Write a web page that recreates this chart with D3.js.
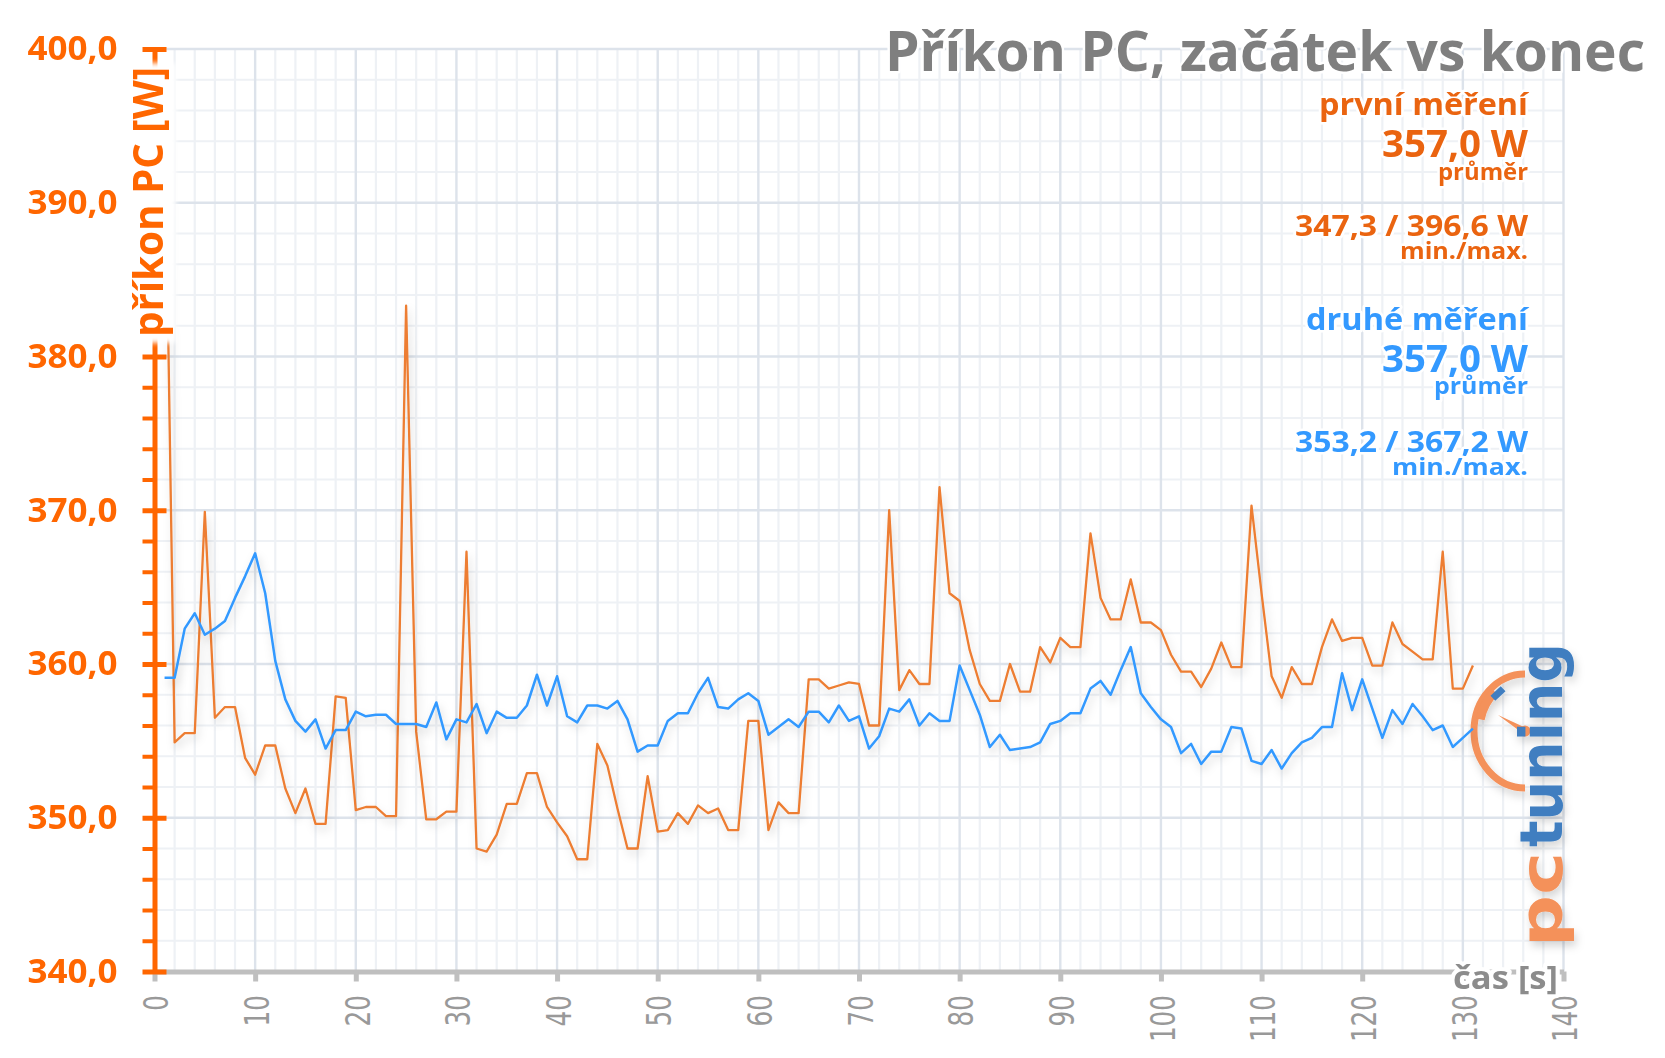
<!DOCTYPE html>
<html><head><meta charset="utf-8">
<script src="https://cdn.jsdelivr.net/npm/d3@7"></script>
<style>
html,body{margin:0;padding:0;background:#fff;}
svg{display:block;}
</style></head>
<body>
<svg id="chart" width="1665" height="1058"></svg>
<script>
// ---- data ----
const firstSecond = 1; // first sample is at t = 1 s
const prvniMereni = [
396.6,354.9,355.5,355.5,369.9,356.5,357.2,357.2,353.9,352.8,
354.7,354.7,351.9,350.3,351.9,349.6,349.6,357.9,357.8,350.5,
350.7,350.7,350.1,350.1,383.3,355.6,349.9,349.9,350.4,350.4,
367.3,348.0,347.8,348.9,350.9,350.9,352.9,352.9,350.7,349.7,
348.8,347.3,347.3,354.8,353.4,350.6,348.0,348.0,352.7,349.1,
349.2,350.3,349.6,350.8,350.3,350.6,349.2,349.2,356.3,356.3,
349.2,351.0,350.3,350.3,359.0,359.0,358.4,358.6,358.8,358.7,
356.0,356.0,370.0,358.3,359.6,358.7,358.7,371.5,364.6,364.1,
360.9,358.7,357.6,357.6,360.0,358.2,358.2,361.1,360.1,361.7,
361.1,361.1,368.5,364.3,362.9,362.9,365.5,362.7,362.7,362.2,
360.6,359.5,359.5,358.5,359.7,361.4,359.8,359.8,370.3,364.6,
359.2,357.8,359.8,358.7,358.7,361.1,362.9,361.5,361.7,361.7,
359.9,359.9,362.7,361.3,360.8,360.3,360.3,367.3,358.4,358.4,
359.9];
const druheMereni = [
359.1,359.1,362.3,363.3,361.9,362.3,362.8,364.3,365.7,367.2,
364.6,360.2,357.7,356.3,355.6,356.4,354.5,355.7,355.7,356.9,
356.6,356.7,356.7,356.1,356.1,356.1,355.9,357.5,355.1,356.4,
356.2,357.4,355.5,356.9,356.5,356.5,357.3,359.3,357.3,359.2,
356.6,356.2,357.3,357.3,357.1,357.6,356.4,354.3,354.7,354.7,
356.3,356.8,356.8,358.1,359.1,357.2,357.1,357.7,358.1,357.6,
355.4,355.9,356.4,355.9,356.9,356.9,356.2,357.3,356.3,356.6,
354.5,355.3,357.1,356.9,357.7,356.0,356.8,356.3,356.3,359.9,
358.3,356.7,354.6,355.4,354.4,354.5,354.6,354.9,356.1,356.3,
356.8,356.8,358.4,358.9,358.0,359.6,361.1,358.1,357.2,356.4,
355.9,354.2,354.8,353.5,354.3,354.3,355.9,355.8,353.7,353.5,
354.4,353.2,354.2,354.9,355.2,355.9,355.9,359.4,357.0,359.0,
357.1,355.2,357.0,356.1,357.4,356.6,355.7,356.0,354.6,355.2,
355.8];
const xTickValues = [0,10,20,30,40,50,60,70,80,90,100,110,120,130,140];
const yTickValues = [340,350,360,370,380,390,400];
const yTickLabels = ["340,0","350,0","360,0","370,0","380,0","390,0","400,0"];
const titleText = "Příkon PC, začátek vs konec";
const yAxisTitle = "příkon PC [W]";
const xAxisTitle = "čas [s]";
const seriesNames = ["první měření","druhé měření"];
const averages = ["357,0 W","357,0 W"];
const minMax = ["347,3 / 396,6 W","353,2 / 367,2 W"];

// ---- setup ----
const svg = d3.select("#chart");
const ORANGE_AXIS = "#FF6600", ORANGE_LINE = "#ED7D31", ORANGE_TXT = "#EA6410";
const BLUE = "#3399FF";
const x = d3.scaleLinear().domain([0,140]).range([154.5,1563.5]);
const y = d3.scaleLinear().domain([340,400]).range([971.5,49]);

const defs = svg.append("defs");
const sh = defs.append("filter").attr("id","shadow").attr("x","-5%").attr("y","-10%").attr("width","115%").attr("height","130%");
sh.append("feDropShadow").attr("dx",2).attr("dy",5).attr("stdDeviation",4).attr("flood-color","#000").attr("flood-opacity",0.17);
const bl = defs.append("filter").attr("id","blur").attr("x","-20%").attr("y","-5%").attr("width","140%").attr("height","110%");
bl.append("feGaussianBlur").attr("stdDeviation",2.5);

// ---- grid ----
const grid = svg.append("g");
const minorT = d3.range(0,141,2).filter(t=>t%10!==0);
const minorV = d3.range(340,401,2).filter(v=>v%10!==0);
grid.selectAll(".mv").data(minorT).join("line")
  .attr("x1",d=>x(d)).attr("x2",d=>x(d)).attr("y1",y(340)).attr("y2",y(400))
  .attr("stroke","#eef1f5").attr("stroke-width",2.2);
grid.selectAll(".mh").data(minorV).join("line")
  .attr("x1",x(0)).attr("x2",x(140)).attr("y1",d=>y(d)).attr("y2",d=>y(d))
  .attr("stroke","#eef1f5").attr("stroke-width",2.2);
grid.selectAll(".Mv").data(xTickValues).join("line")
  .attr("x1",d=>x(d)).attr("x2",d=>x(d)).attr("y1",y(340)).attr("y2",y(400))
  .attr("stroke","#dde3eb").attr("stroke-width",2.4);
grid.selectAll(".Mh").data(yTickValues).join("line")
  .attr("x1",x(0)).attr("x2",x(140)).attr("y1",d=>y(d)).attr("y2",d=>y(d))
  .attr("stroke","#dde3eb").attr("stroke-width",2.4);

// ---- logo (watermark) ----
const logo = svg.append("g").attr("filter","url(#shadow)");
const cx = 1525, cy = 731, rx = 51, ry = 57;
const ep = (r1,r2,a)=>[cx + r1*Math.cos(a*Math.PI/180), cy + r2*Math.sin(a*Math.PI/180)];
logo.append("path").attr("d",`M${cx},${cy-ry} A${rx},${ry} 0 0 0 ${cx},${cy+ry}`)
  .attr("fill","none").attr("stroke","#F4915A").attr("stroke-width",7);
{
  const a1 = ep(rx-5,ry-5,193), a2 = ep(rx-5,ry-5,229);
  logo.append("path").attr("d",`M${a1[0]},${a1[1]} A${rx-5},${ry-5} 0 0 1 ${a2[0]},${a2[1]}`)
    .attr("fill","none").attr("stroke","#F4915A").attr("stroke-width",9);
}
logo.append("rect").attr("x",-7).attr("y",-3.5).attr("width",14).attr("height",7)
  .attr("transform","translate(1498,693.5) rotate(-43)").attr("fill","#3F7EC0");
logo.append("polygon").attr("points",`1498,715 ${cx-1.6},${cy+2.7} ${cx+1.6},${cy-2.7}`).attr("fill","#F4915A");
logo.append("circle").attr("cx",cx).attr("cy",cy).attr("r",5.5).attr("fill","#F4915A");
logo.append("text").attr("transform","translate(1562,947) rotate(-90)")
  .attr("font-family","DejaVu Sans").attr("font-weight","bold").attr("font-size",58)
  .attr("textLength",95).attr("lengthAdjust","spacingAndGlyphs")
  .attr("fill","#F4915A").text("pc");
logo.append("text").attr("transform","translate(1562,847) rotate(-90)")
  .attr("font-family","DejaVu Sans").attr("font-weight","bold").attr("font-size",58)
  .attr("textLength",204).attr("lengthAdjust","spacingAndGlyphs")
  .attr("fill","#3F7EC0").text("tuning");

// ---- series lines ----
const line = d3.line().x((d,i)=>x(i+firstSecond)).y(d=>y(d));
svg.append("path").datum(prvniMereni).attr("d",line).attr("fill","none")
  .attr("stroke",ORANGE_LINE).attr("stroke-width",2.3).attr("stroke-linejoin","round")
  .attr("filter","url(#shadow)");
svg.append("path").datum(druheMereni).attr("d",line).attr("fill","none")
  .attr("stroke",BLUE).attr("stroke-width",2.5).attr("stroke-linejoin","round")
  .attr("filter","url(#shadow)");

// ---- x axis ----
const xAxisG = svg.append("g").attr("transform",`translate(0,${y(340)})`)
  .call(d3.axisBottom(x).tickValues(xTickValues).tickSize(10).tickSizeOuter(0).tickFormat(d=>String(d)));
xAxisG.select(".domain").attr("stroke","#BFBFBF").attr("stroke-width",5);
xAxisG.selectAll(".tick line").attr("stroke","#BFBFBF").attr("stroke-width",5);
xAxisG.selectAll(".tick text")
  .attr("transform","rotate(-90)").attr("x",-23.5).attr("y",1).attr("dy","0.36em")
  .attr("text-anchor","end").attr("fill","#999").attr("font-family","DejaVu Sans")
  .attr("font-size",34).attr("textLength",d=>String(d).length*15.7).attr("lengthAdjust","spacingAndGlyphs");
xAxisG.attr("font-family",null).attr("font-size",null);

// ---- y axis ----
const yMinor = svg.append("g").attr("transform",`translate(${x(0)},0)`)
  .call(d3.axisLeft(y).tickValues(minorV).tickSize(12).tickSizeOuter(0).tickFormat(""));
yMinor.select(".domain").remove();
yMinor.selectAll(".tick line").attr("stroke",ORANGE_AXIS).attr("stroke-width",4);
const yAxisG = svg.append("g").attr("transform",`translate(${x(0)},0)`)
  .call(d3.axisLeft(y).tickValues(yTickValues).tickSize(12).tickSizeOuter(0).tickPadding(25)
    .tickFormat((d,i)=>yTickLabels[i]));
yAxisG.select(".domain").attr("stroke",ORANGE_AXIS).attr("stroke-width",5);
yAxisG.selectAll(".tick line").attr("stroke",ORANGE_AXIS).attr("stroke-width",5).attr("x1",12);
yAxisG.selectAll(".tick text").attr("fill",ORANGE_AXIS).attr("font-family","Open Sans")
  .attr("font-weight","bold").attr("font-size",34).attr("textLength",90).attr("lengthAdjust","spacingAndGlyphs");
yAxisG.attr("font-family",null).attr("font-size",null);

// ---- axis titles ----
svg.append("rect").attr("x",130).attr("y",63).attr("width",46).attr("height",280)
  .attr("fill","#fff").attr("filter","url(#blur)");
svg.append("text").attr("transform","translate(163,202) rotate(-90)")
  .attr("text-anchor","middle").attr("font-family","Open Sans").attr("font-weight","bold")
  .attr("font-size",42).attr("fill",ORANGE_AXIS).attr("textLength",270).attr("lengthAdjust","spacingAndGlyphs")
  .text(yAxisTitle);
svg.append("text").attr("x",1558).attr("y",989).attr("text-anchor","end")
  .attr("font-family","Open Sans").attr("font-weight","bold").attr("font-size",33)
  .attr("fill","#8c8c8c").attr("stroke","#fff").attr("stroke-width",8).attr("paint-order","stroke")
  .attr("stroke-linejoin","round").attr("textLength",105).attr("lengthAdjust","spacingAndGlyphs")
  .text(xAxisTitle);

// ---- title ----
svg.append("text").attr("x",1645).attr("y",71).attr("text-anchor","end")
  .attr("font-family","Open Sans").attr("font-weight","bold").attr("font-size",56)
  .attr("fill","#7f7f7f").attr("stroke","#fff").attr("stroke-width",5).attr("paint-order","stroke")
  .attr("stroke-linejoin","round").attr("textLength",760).attr("lengthAdjust","spacingAndGlyphs")
  .text(titleText);

// ---- stats block ----
const stats = [
  {t:seriesNames[0], y:115, fs:30, w:209, c:ORANGE_TXT},
  {t:averages[0],    y:157, fs:37, w:146, c:ORANGE_TXT},
  {t:"průměr",       y:180, fs:23, w:90,  c:ORANGE_TXT},
  {t:minMax[0],      y:236, fs:28, w:233, c:ORANGE_TXT},
  {t:"min./max.",    y:259, fs:23, w:128, c:ORANGE_TXT},
  {t:seriesNames[1], y:330, fs:30, w:222, c:BLUE},
  {t:averages[1],    y:372, fs:37, w:146, c:BLUE},
  {t:"průměr",       y:394, fs:23, w:94,  c:BLUE},
  {t:minMax[1],      y:452, fs:28, w:233, c:BLUE},
  {t:"min./max.",    y:475, fs:23, w:136, c:BLUE}
];
svg.append("g").selectAll("text").data(stats).join("text")
  .attr("x",1528).attr("y",d=>d.y).attr("text-anchor","end")
  .attr("font-family","Open Sans").attr("font-weight","bold")
  .attr("font-size",d=>d.fs).attr("fill",d=>d.c)
  .attr("stroke","#fff").attr("stroke-width",5).attr("paint-order","stroke").attr("stroke-linejoin","round")
  .attr("textLength",d=>d.w).attr("lengthAdjust","spacingAndGlyphs")
  .text(d=>d.t);
</script>
</body></html>
